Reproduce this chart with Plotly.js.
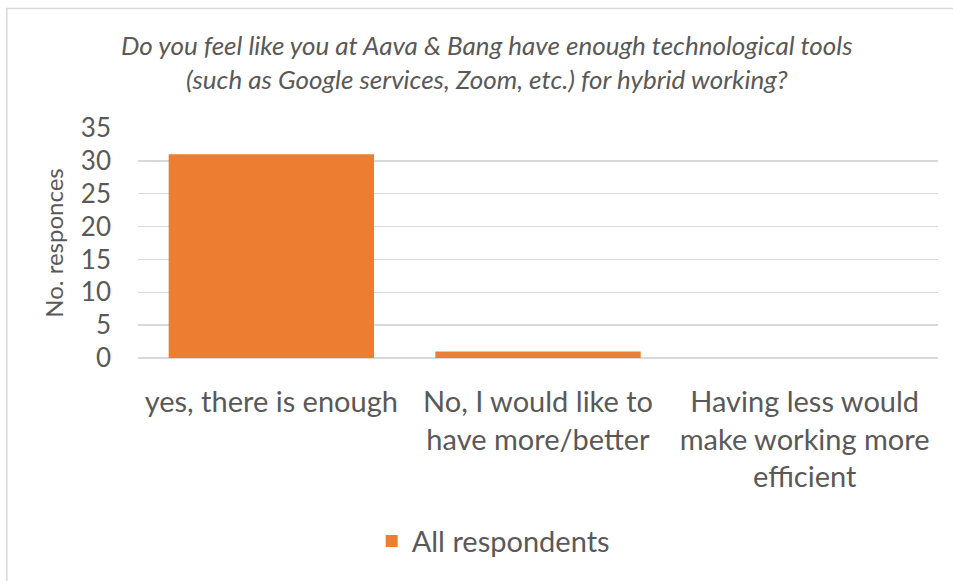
<!DOCTYPE html>
<html>
<head>
<meta charset="utf-8">
<script src="https://cdn.plot.ly/plotly-3.0.1.min.js"></script>
<style>
html,body{margin:0;padding:0;background:#fff;}
#chart{width:953px;height:581px;}
</style>
</head>
<body>
<div id="chart"></div>
<script>
const categories = ["yes, there is enough", "No, I would like to<br>have more/better", "Having less would<br>make working more<br>efficient"];
const values = [31, 1, 0];
const seriesName = "All respondents";
const yTicks = [0, 5, 10, 15, 20, 25, 30, 35];
const titleText = "Do you feel like you at Aava & Bang have enough technological tools<br>(such as Google services, Zoom, etc.) for hybrid working?";
const yTitle = "No. responces";

const FONT = "Lato, 'Noto Sans', sans-serif";
const GRAY = "#595959";

const trace = {
  type: "bar",
  x: categories,
  y: values,
  name: seriesName,
  marker: {color: "#ED7D31"},
  hoverinfo: "x+y"
};

const layout = {
  width: 953,
  height: 581,
  margin: {l: 138, r: 15, t: 128, b: 223},
  paper_bgcolor: "#ffffff",
  plot_bgcolor: "#ffffff",
  font: {family: FONT, color: GRAY},
  bargap: 0.23,
  showlegend: true,
  title: {
    text: titleText,
    font: {family: FONT, size: 26, color: GRAY, style: "italic"},
    x: 0.436, xref: "paper", xanchor: "center",
    y: 0.905, yref: "container", yanchor: "middle"
  },
  xaxis: {
    type: "category",
    tickfont: {family: FONT, size: 29, color: GRAY},
    showgrid: false,
    showline: false,
    ticks: "",
    ticklabelstandoff: 24,
    automargin: false
  },
  yaxis: {
    range: [0, 35],
    tickvals: yTicks,
    ticktext: yTicks.map(String),
    tickfont: {family: FONT, size: 26, color: GRAY},
    showgrid: true,
    gridcolor: "#D9D9D9",
    gridwidth: 1.3,
    zeroline: true,
    zerolinecolor: "#D9D9D9",
    zerolinewidth: 1.3,
    showline: false,
    ticks: "",
    ticklabelstandoff: 26,
    automargin: false,
    title: {text: yTitle, font: {family: FONT, size: 24, color: GRAY}, standoff: 10}
  },
  legend: {
    orientation: "h",
    x: 0.444, xanchor: "center",
    y: -0.796, yanchor: "middle",
    font: {family: FONT, size: 29, color: GRAY},
    itemwidth: 30
  },
  shapes: [{
    type: "rect", xref: "paper", yref: "paper",
    x0: -0.164, x1: 1.2, y0: -1.2, y1: 1.5196,
    line: {color: "#D9D9D9", width: 1.5},
    fillcolor: "rgba(0,0,0,0)",
    layer: "below"
  }]
};

Plotly.newPlot("chart", [trace], layout, {displayModeBar: false, staticPlot: true});
</script>
</body>
</html>
